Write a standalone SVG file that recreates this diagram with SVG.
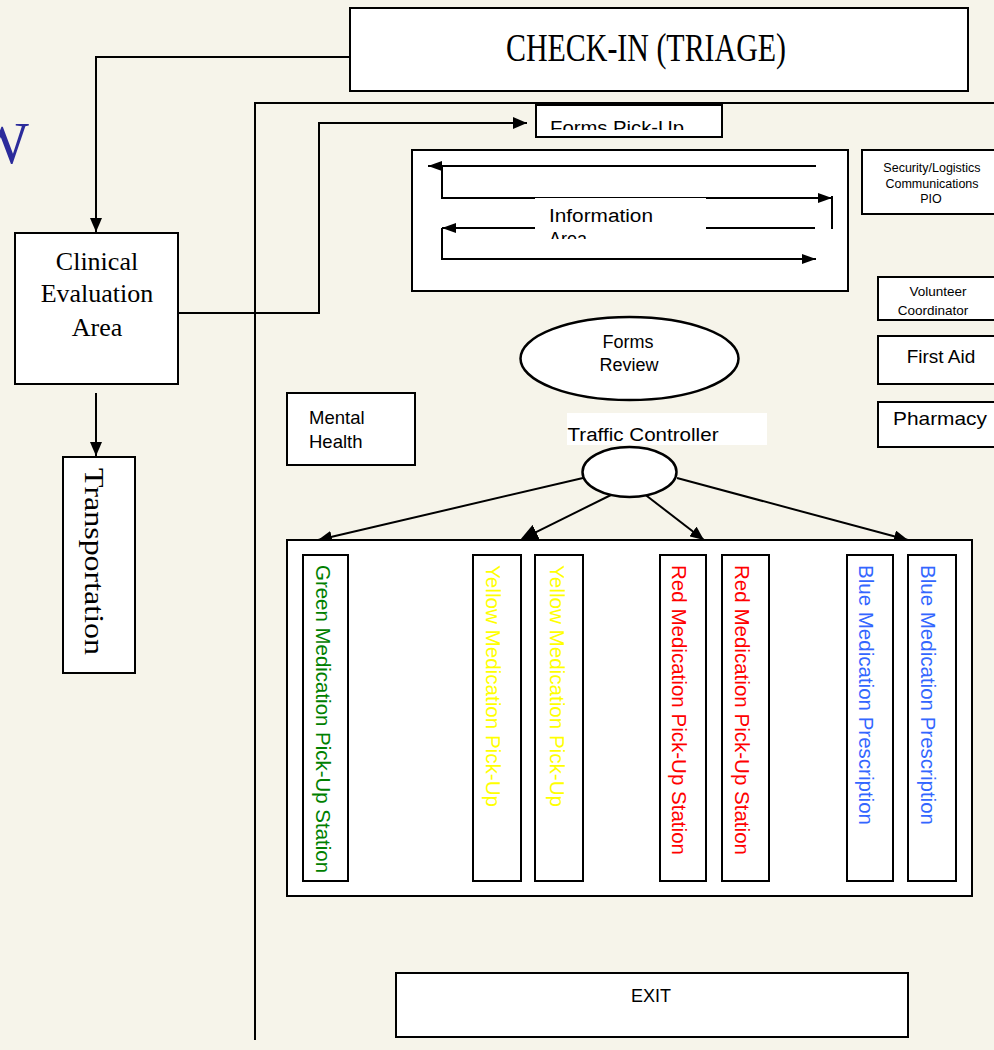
<svg xmlns="http://www.w3.org/2000/svg" width="994" height="1050" viewBox="0 0 994 1050">
<defs>
<style>
.box{fill:#fff;stroke:#000;stroke-width:2}
.ln{fill:none;stroke:#000;stroke-width:2}
.sans{font-family:"Liberation Sans",Arial,sans-serif;fill:#000}
.serif{font-family:"Liberation Serif","Times New Roman",serif;fill:#000}
.mid{text-anchor:middle}
</style>
<marker id="ah" markerUnits="userSpaceOnUse" markerWidth="14" markerHeight="12" refX="14" refY="6" orient="auto"><path d="M0,0 L14,6 L0,12 z" fill="#000"/></marker>
<marker id="ahS" markerUnits="userSpaceOnUse" markerWidth="14" markerHeight="10" refX="14" refY="5" orient="auto"><path d="M0,0 L14,5 L0,10 z" fill="#000"/></marker>
<marker id="ahT" markerUnits="userSpaceOnUse" markerWidth="18" markerHeight="16" refX="8" refY="8" orient="auto"><path d="M0,0 L18,8 L0,16 z" fill="#000"/></marker>
<clipPath id="clipFP"><rect x="537" y="106" width="184" height="24"/></clipPath>
<clipPath id="clipInfo"><rect x="535" y="198" width="171" height="41"/></clipPath>
</defs>

<rect x="0" y="0" width="994" height="1050" fill="#f6f4ea"/>

<text x="29" y="163" text-anchor="end" font-family="Liberation Serif,'Times New Roman',serif" font-size="60" fill="#2b2b9b">W</text>

<g id="connectors">
<path class="ln" d="M255,1040 V103 H994"/>
<path class="ln" d="M350,57 H96 V232" marker-end="url(#ah)"/>
<path class="ln" d="M96,393 V456" marker-end="url(#ah)"/>
<path class="ln" d="M178,313 H319 V123 H527" marker-end="url(#ah)"/>
<path class="ln" stroke-width="2.5" d="M583,478 L318,540" marker-end="url(#ah)"/>
<path class="ln" stroke-width="6" d="M615,493 L529,535.6" marker-end="url(#ahT)"/>
<path class="ln" stroke-width="3" d="M643,493 L704,540" marker-end="url(#ah)"/>
<path class="ln" stroke-width="2.5" d="M677,478 L908,540" marker-end="url(#ah)"/>
</g>

<g id="checkin">
<rect class="box" x="350" y="8" width="618" height="83"/>
<text class="serif mid" x="646" y="61" font-size="40" textLength="280" lengthAdjust="spacingAndGlyphs">CHECK-IN (TRIAGE)</text>
</g>

<g id="clinical">
<rect class="box" x="15" y="233" width="163" height="151"/>
<text class="serif mid" x="97" y="270" font-size="26">Clinical</text>
<text class="serif mid" x="97" y="302" font-size="26">Evaluation</text>
<text class="serif mid" x="97" y="336" font-size="26">Area</text>
</g>

<g id="transportation">
<rect class="box" x="63" y="457" width="72" height="216"/>
<text class="serif" transform="translate(85,468) rotate(90)" font-size="27" textLength="187" lengthAdjust="spacingAndGlyphs">Transportation</text>
</g>

<g id="forms-pickup">
<rect class="box" x="536" y="105" width="186" height="32"/>
<text class="sans" x="550" y="134" font-size="18" clip-path="url(#clipFP)" textLength="134" lengthAdjust="spacingAndGlyphs">Forms Pick-Up</text>
</g>

<g id="information-area">
<rect class="box" x="412" y="150" width="436" height="141"/>
<path class="ln" d="M816,166 H428" marker-end="url(#ahS)"/>
<path class="ln" d="M442,166 V198 H832" marker-end="url(#ahS)"/>
<path class="ln" d="M832,196 V229"/>
<path class="ln" stroke-width="4" d="M815,228 H442" marker-end="url(#ahS)"/>
<path class="ln" d="M442,228 V259 H816" marker-end="url(#ahS)"/>
<rect x="535" y="198" width="171" height="42" fill="#fff"/>
<g clip-path="url(#clipInfo)">
<text class="sans" x="549" y="222" font-size="18" textLength="104" lengthAdjust="spacingAndGlyphs">Information</text>
<text class="sans" x="549" y="245" font-size="18">Area</text>
</g>
</g>

<g id="security">
<rect class="box" x="862" y="150" width="140" height="64"/>
<text class="sans mid" x="932" y="172" font-size="12.5">Security/Logistics</text>
<text class="sans mid" x="932" y="188" font-size="12.5">Communications</text>
<text class="sans mid" x="931" y="203" font-size="12.5">PIO</text>
</g>

<g id="volunteer">
<rect class="box" x="878" y="277" width="124" height="43"/>
<text class="sans mid" x="938" y="296" font-size="13.5">Volunteer</text>
<text class="sans mid" x="933" y="315" font-size="13.5">Coordinator</text>
</g>

<g id="first-aid">
<rect class="box" x="878" y="336" width="124" height="48"/>
<text class="sans mid" x="941" y="363" font-size="19">First Aid</text>
</g>

<g id="pharmacy">
<rect class="box" x="878" y="402" width="124" height="45"/>
<text class="sans mid" x="940" y="425" font-size="19" textLength="94" lengthAdjust="spacingAndGlyphs">Pharmacy</text>
</g>

<g id="forms-review">
<ellipse cx="629.5" cy="358.5" rx="109" ry="41.5" fill="#fff" stroke="#000" stroke-width="2.5"/>
<text class="sans mid" x="628" y="348" font-size="18">Forms</text>
<text class="sans mid" x="629" y="371" font-size="18">Review</text>
</g>

<g id="mental-health">
<rect class="box" x="287" y="393" width="128" height="72"/>
<text class="sans" x="309" y="424" font-size="18.5">Mental</text>
<text class="sans" x="309" y="448" font-size="18.5">Health</text>
</g>

<g id="traffic-controller">
<rect x="567" y="413" width="200" height="32" fill="#fff"/>
<text class="sans mid" x="643" y="441" font-size="18" textLength="151" lengthAdjust="spacingAndGlyphs">Traffic Controller</text>
<ellipse cx="629.5" cy="472" rx="47" ry="25" fill="#fff" stroke="#000" stroke-width="2.5"/>
</g>

<g id="stations">
<rect class="box" x="287" y="540" width="685" height="356"/>
<rect class="box" x="303" y="555" width="45" height="326"/>
<text class="sans" transform="translate(316,565) rotate(90)" font-size="20.5" fill="#008000" style="fill:#008000" textLength="308" lengthAdjust="spacingAndGlyphs">Green Medication Pick-Up Station</text>
<rect class="box" x="473" y="555" width="48" height="326"/>
<text class="sans" transform="translate(486,565) rotate(90)" font-size="20.5" style="fill:#ffff00" textLength="242" lengthAdjust="spacingAndGlyphs">Yellow Medication Pick-Up</text>
<rect class="box" x="535" y="555" width="48" height="326"/>
<text class="sans" transform="translate(550,565) rotate(90)" font-size="20.5" style="fill:#ffff00" textLength="242" lengthAdjust="spacingAndGlyphs">Yellow Medication Pick-Up</text>
<rect class="box" x="660" y="555" width="46" height="326"/>
<text class="sans" transform="translate(672,565) rotate(90)" font-size="20.5" style="fill:#ff0000" textLength="290" lengthAdjust="spacingAndGlyphs">Red Medication Pick-Up Station</text>
<rect class="box" x="722" y="555" width="47" height="326"/>
<text class="sans" transform="translate(735,565) rotate(90)" font-size="20.5" style="fill:#ff0000" textLength="290" lengthAdjust="spacingAndGlyphs">Red Medication Pick-Up Station</text>
<rect class="box" x="847" y="555" width="46" height="326"/>
<text class="sans" transform="translate(859,565) rotate(90)" font-size="20.5" style="fill:#3366ff" textLength="260" lengthAdjust="spacingAndGlyphs">Blue Medication Prescription</text>
<rect class="box" x="908" y="555" width="48" height="326"/>
<text class="sans" transform="translate(921,565) rotate(90)" font-size="20.5" style="fill:#3366ff" textLength="260" lengthAdjust="spacingAndGlyphs">Blue Medication Prescription</text>
</g>

<g id="exit">
<rect class="box" x="396" y="973" width="512" height="64"/>
<text class="sans mid" x="651" y="1002" font-size="18">EXIT</text>
</g>
</svg>
